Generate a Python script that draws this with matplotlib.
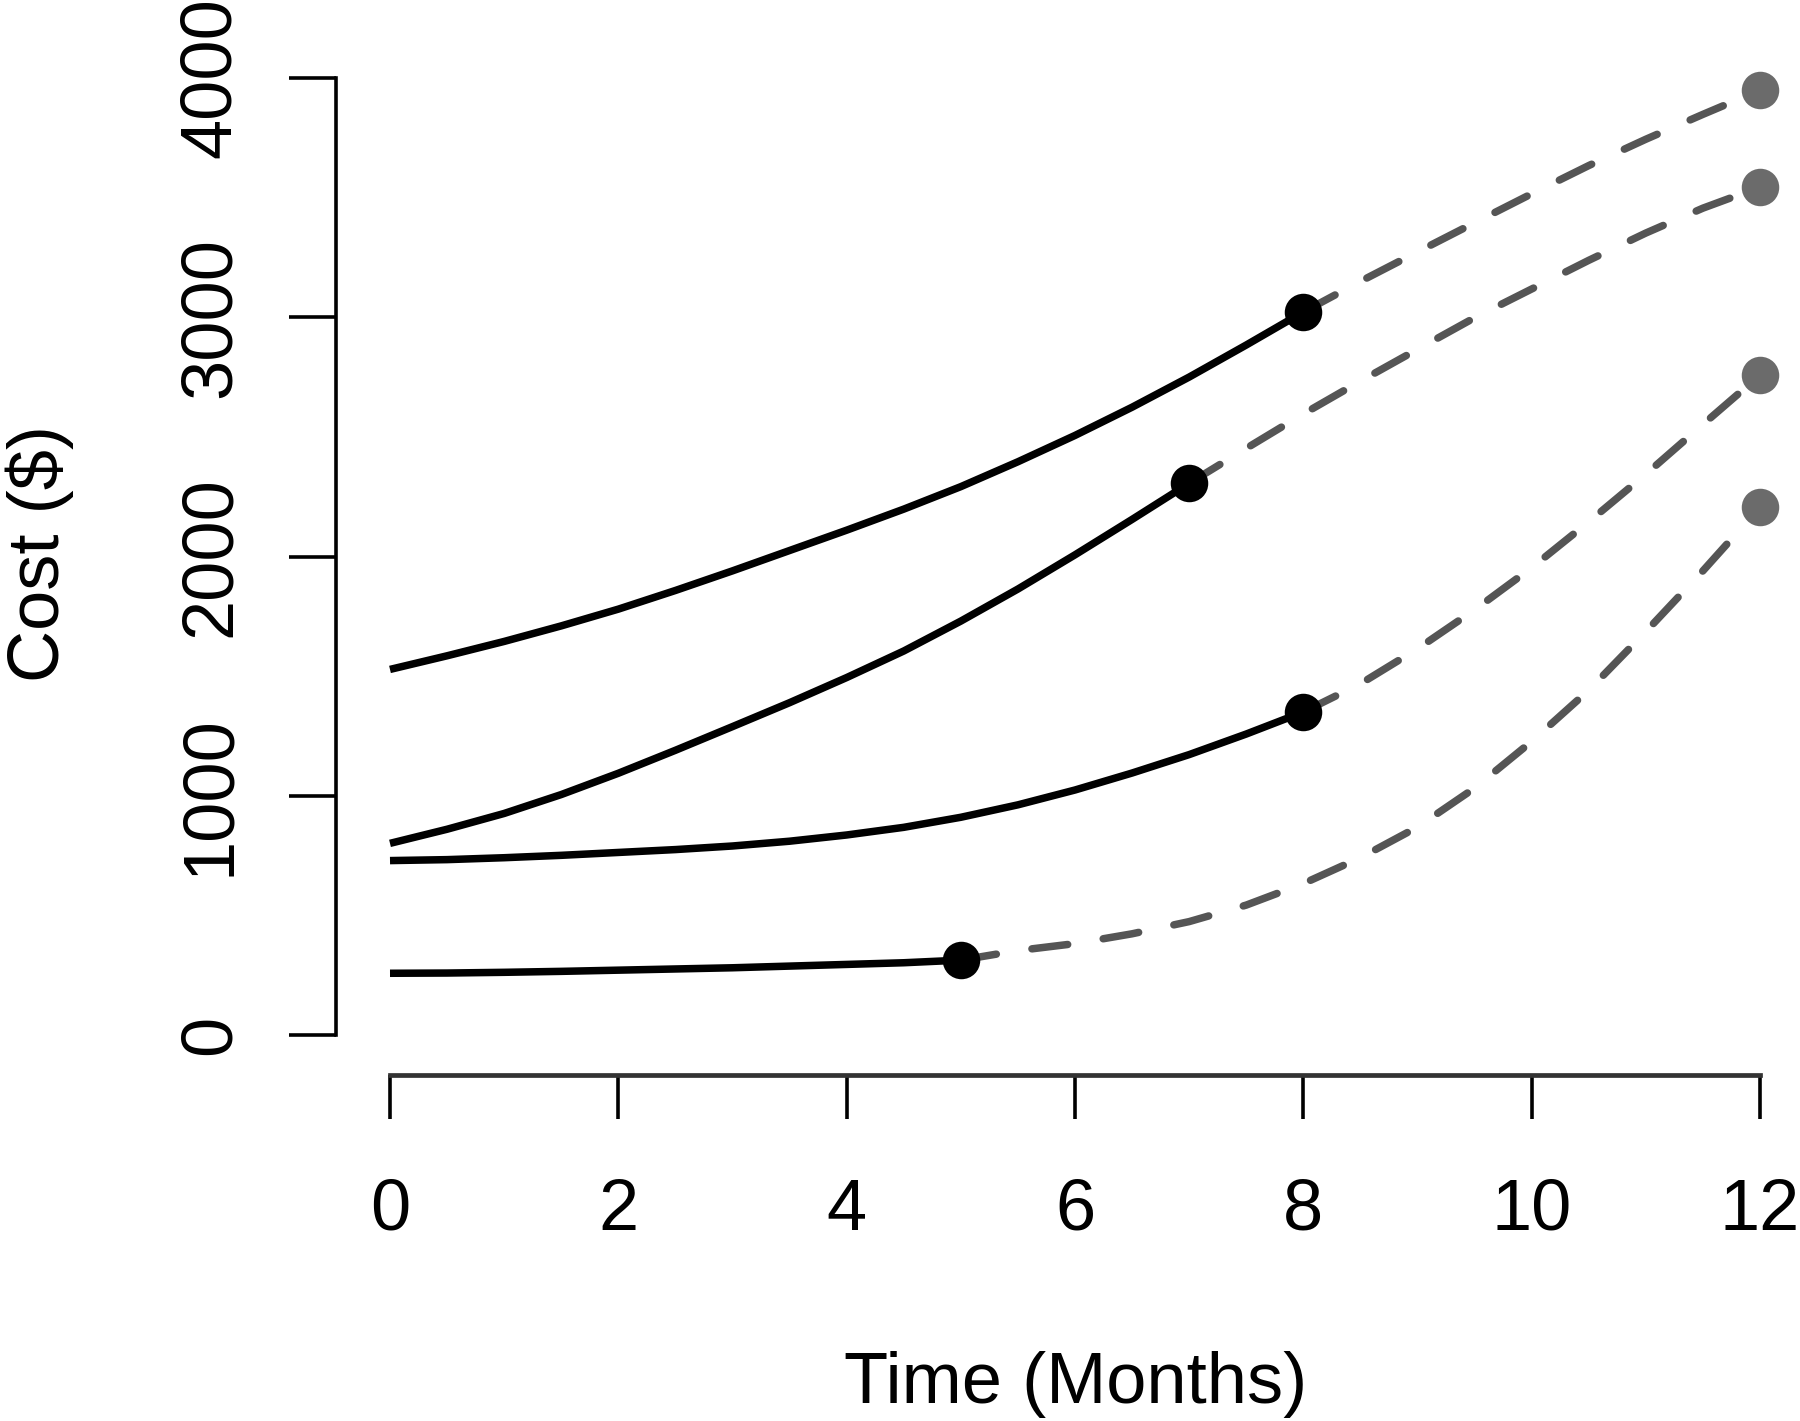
import matplotlib
matplotlib.use("Agg")
import matplotlib.pyplot as plt

plt.rcParams['font.family'] = ['Liberation Sans', 'DejaVu Sans']

# ---- data (half-month readings) ----
months_a_solid = [0, 0.5, 1, 1.5, 2, 2.5, 3, 3.5, 4, 4.5, 5, 5.5, 6, 6.5, 7, 7.5, 8]
cost_a_solid = [1528, 1585, 1645, 1710, 1780, 1858, 1940, 2025, 2110, 2198, 2292,
                2396, 2506, 2624, 2750, 2884, 3022]
months_a_dash = [8, 8.5, 9, 9.5, 10, 10.5, 11, 11.5, 12]
cost_a_dash = [3022, 3150, 3273, 3395, 3516, 3634, 3744, 3848, 3949]

months_b_solid = [0, 0.5, 1, 1.5, 2, 2.5, 3, 3.5, 4, 4.5, 5, 5.5, 6, 6.5, 7]
cost_b_solid = [801, 860, 926, 1005, 1094, 1190, 1289, 1389, 1494, 1605, 1730,
                1864, 2007, 2155, 2306]
months_b_dash = [7, 7.5, 8, 8.5, 9, 9.5, 10, 10.5, 11, 11.5, 12]
cost_b_dash = [2306, 2452, 2596, 2733, 2866, 2998, 3118, 3238, 3352, 3456, 3544]

months_c_solid = [0, 0.5, 1, 1.5, 2, 2.5, 3, 3.5, 4, 4.5, 5, 5.5, 6, 6.5, 7, 7.5, 8]
cost_c_solid = [729, 733, 741, 751, 763, 775, 790, 810, 836, 868, 910, 962, 1024,
                1095, 1172, 1258, 1350]
months_c_dash = [8, 8.5, 9, 9.5, 10, 10.5, 11, 11.5, 12]
cost_c_dash = [1350, 1468, 1614, 1777, 1953, 2145, 2344, 2552, 2758]

months_d_solid = [0, 0.5, 1, 1.5, 2, 2.5, 3, 3.5, 4, 4.5, 5]
cost_d_solid = [258, 259, 262, 266, 271, 276, 281, 288, 295, 302, 313]
months_d_dash = [5, 5.5, 6, 6.5, 7, 7.5, 8, 8.5, 9, 9.5, 10, 10.5, 11, 11.5, 12]
cost_d_dash = [313, 353, 382, 423, 474, 543, 633, 741, 869, 1032, 1227, 1441,
               1686, 1940, 2206]

x_ticks = [0, 2, 4, 6, 8, 10, 12]
y_ticks = [0, 1000, 2000, 3000, 4000]

solid_series = [(months_a_solid, cost_a_solid), (months_b_solid, cost_b_solid),
                (months_c_solid, cost_c_solid), (months_d_solid, cost_d_solid)]
dash_series = [(months_a_dash, cost_a_dash), (months_b_dash, cost_b_dash),
               (months_c_dash, cost_c_dash), (months_d_dash, cost_d_dash)]

W, H, DPI = 1800, 1421, 200
fig = plt.figure(figsize=(W / DPI, H / DPI), dpi=DPI)
ax = fig.add_axes([390 / W, (H - 1035) / H, (1760 - 390) / W, (1035 - 78) / H])

lw = 2.7
dash_col = '#555555'
for mx, cy in dash_series:
    ax.plot(mx, cy, color=dash_col, lw=lw, dashes=(4.8, 4.8),
            dash_capstyle='round', solid_joinstyle='round', dash_joinstyle='round',
            clip_on=False, zorder=2)
    ax.plot([mx[-1]], [cy[-1]], 'o', color='#6b6b6b', ms=13.5, mec='none',
            clip_on=False, zorder=4)
for mx, cy in solid_series:
    ax.plot(mx, cy, color='black', lw=lw, solid_capstyle='butt',
            solid_joinstyle='round', clip_on=False, zorder=3)
    ax.plot([mx[-1]], [cy[-1]], 'o', color='black', ms=13.5, mec='none',
            clip_on=False, zorder=5)

ax.set_xlim(0, 12)
ax.set_ylim(0, 4000)
for s in ['top', 'right']:
    ax.spines[s].set_visible(False)
ax.spines['left'].set_position(('outward', 19.4))
ax.spines['bottom'].set_position(('outward', 14.4))
ax.spines['left'].set_bounds(0, 4000)
ax.spines['bottom'].set_bounds(0, 12)
ax.spines['left'].set_linewidth(1.3)
ax.spines['bottom'].set_linewidth(1.7)
ax.spines['bottom'].set_color('#333333')

ax.set_xticks(x_ticks)
ax.set_xticklabels([str(v) for v in x_ticks])
ax.set_yticks(y_ticks)
ax.set_yticklabels([str(v) for v in y_ticks], rotation=90, va='center')
ax.tick_params(axis='y', length=17, width=1.3, labelsize=26, pad=16)
ax.tick_params(axis='x', length=16, width=1.3, labelsize=26, pad=21)

fig.text(1076 / W, 36 / H, 'Time (Months)', ha='center', va='center', fontsize=26)
fig.text(40 / W, 867 / H, 'Cost ($)', ha='center', va='center', rotation=90, fontsize=26)

fig.savefig('out.png', dpi=DPI, facecolor='white')
